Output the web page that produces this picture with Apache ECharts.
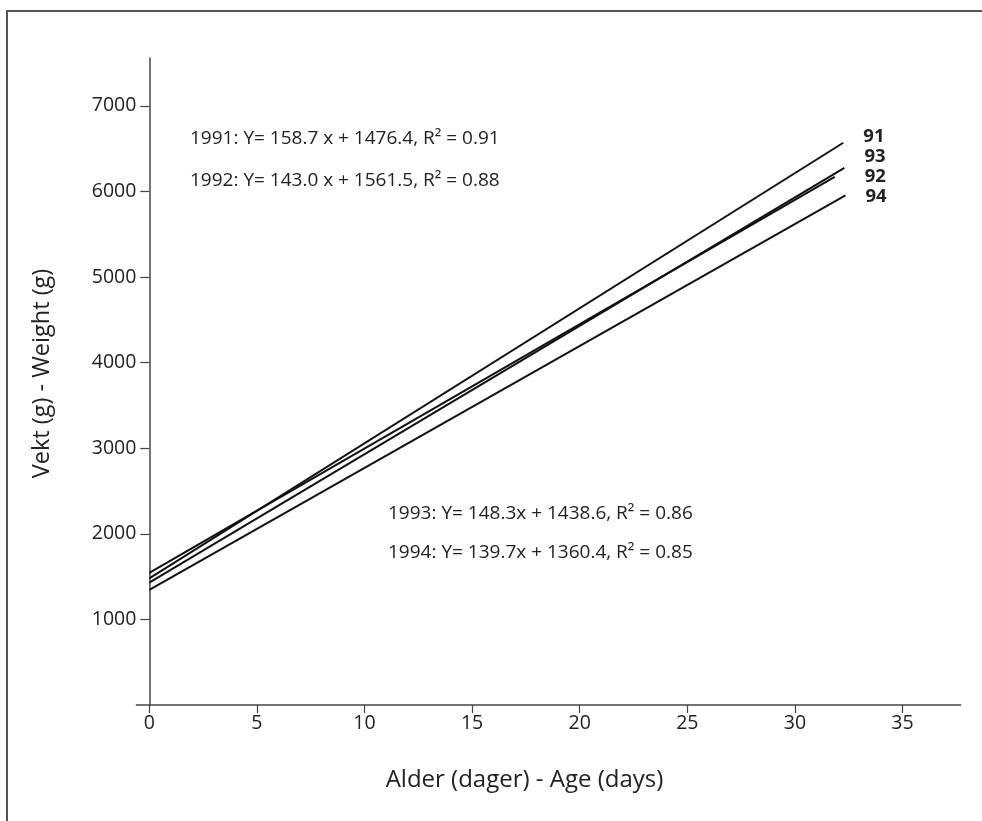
<!DOCTYPE html>
<html><head><meta charset="utf-8">
<script src="https://cdn.jsdelivr.net/npm/echarts@6/dist/echarts.min.js"></script>
<style>html,body{margin:0;padding:0;background:#fff}#c{width:982px;height:821px}</style>
</head><body><div id="c"></div>
<script>
// Data
const years = ['91', '92', '93', '94'];
const startX = [0, 0, 0, 0];
const startY = [1480, 1545, 1430, 1345];
const endX = [32.25, 31.85, 32.3, 32.35];
const endY = [6570, 6170, 6275, 5955];
const equations = [
  '1991: Y= 158.7 x + 1476.4, R\u00B2 = 0.91',
  '1992: Y= 143.0 x + 1561.5, R\u00B2 = 0.88',
  '1993: Y= 148.3x + 1438.6, R\u00B2 = 0.86',
  '1994: Y= 139.7x + 1360.4, R\u00B2 = 0.85'
];
const xTicks = [0, 5, 10, 15, 20, 25, 30, 35];
const yTicks = [1000, 2000, 3000, 4000, 5000, 6000, 7000];
const xTitle = 'Alder (dager) - Age (days)';
const yTitle = 'Vekt (g) - Weight (g)';

const FONT = 'Open Sans';
const TXT = '#222';
const AX = '#444';
const labelOffsets = [[12, -6], [22, 0], [12, -11], [12, 1]];
const eqPos = [[190, 142], [190, 184], [388, 517], [388, 556]];

const chart = echarts.init(document.getElementById('c'));
const series = years.map((y, i) => ({
  type: 'line',
  name: y,
  data: [[startX[i], startY[i]], [endX[i], endY[i]]],
  symbol: 'none',
  lineStyle: { color: '#111', width: 2 },
  silent: true,
  endLabel: {
    show: true,
    formatter: '{a}',
    fontFamily: FONT,
    fontWeight: 'bold',
    fontSize: 18.5,
    color: TXT,
    offset: labelOffsets[i]
  }
}));

chart.setOption({
  animation: false,
  backgroundColor: '#fff',
  grid: { left: 136.4, right: 21.4, top: 58, bottom: 116, outerBoundsMode: 'none', containLabel: false },
  xAxis: {
    type: 'value', min: -0.6, max: 37.7,
    splitLine: { show: false },
    axisLine: { lineStyle: { color: AX, width: 1.5 } },
    axisTick: { customValues: xTicks, length: 8, lineStyle: { color: AX, width: 1.2 } },
    axisLabel: { customValues: xTicks, fontFamily: FONT, fontSize: 19.5, color: TXT, margin: 8 },
    name: xTitle, nameLocation: 'middle', nameGap: 63,
    nameTextStyle: { fontFamily: FONT, fontSize: 24, color: TXT, padding: [0, 48, 0, 0] }
  },
  yAxis: {
    type: 'value', min: 0, max: 7560,
    splitLine: { show: false },
    axisLine: { onZero: true, lineStyle: { color: AX, width: 1.5 } },
    axisTick: { customValues: yTicks, length: 9, lineStyle: { color: AX, width: 1.2 } },
    axisLabel: { customValues: yTicks, formatter: v => String(v), fontFamily: FONT, fontSize: 19.5, color: TXT, margin: 0 },
    name: yTitle, nameLocation: 'middle', nameGap: 82, nameRotate: 90,
    nameTextStyle: { fontFamily: FONT, fontSize: 23.5, color: TXT, padding: [0, 0, 0, 16] }
  },
  series: series,
  graphic: [
    { type: 'polyline', shape: { points: [[7, 830], [7, 11], [990, 11]] }, style: { stroke: '#555', lineWidth: 2, fill: null }, silent: true }
  ].concat(equations.map((t, i) => ({
    type: 'text', left: eqPos[i][0], top: eqPos[i][1] - 13,
    style: { text: t, fontFamily: FONT, fontSize: 19, fill: TXT }
  })))
});
</script></body></html>
